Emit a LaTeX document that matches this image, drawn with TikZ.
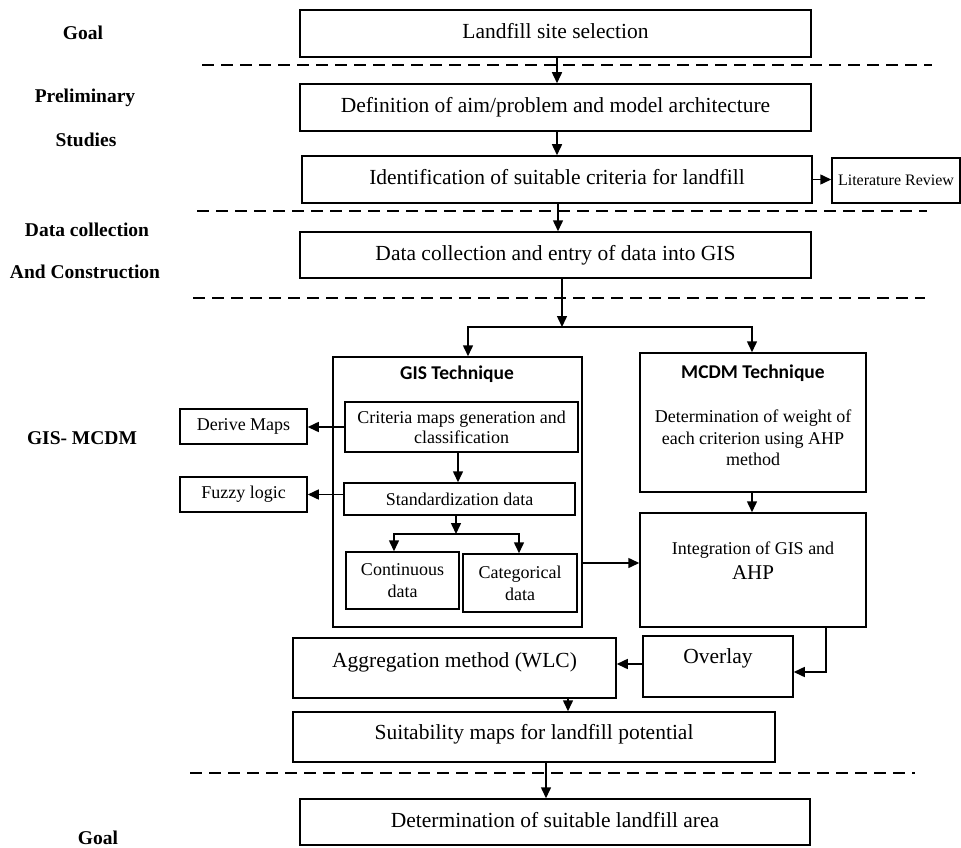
\documentclass[tikz,border=0pt]{standalone}
\usepackage{fontspec}
\setmainfont{Liberation Serif}
\newfontfamily\calib{Carlito}
\usetikzlibrary{arrows.meta}
\begin{document}
\begin{tikzpicture}[x=1pt,y=-1pt,
  bx/.style={draw, line width=1.5pt, inner sep=2pt, align=center},
  big/.style={font=\fontsize{21.5}{25}\selectfont, text height=15pt, text depth=5pt},
  sml/.style={font=\fontsize{18}{21}\selectfont},
  lab/.style={font=\bfseries\fontsize{19.5}{23}\selectfont},
  ttl/.style={font=\calib\bfseries\fontsize{19.5}{23}\selectfont},
  arr/.style={line width=1.5pt, -{Triangle[length=11pt,width=10pt]}},
  ln/.style={line width=1.5pt},
  dline/.style={line width=1.6pt, dash pattern=on 12pt off 7pt}]
\useasboundingbox (0,0) rectangle (961,848);

% left labels
\node[lab] (l1) at (83,33) {Goal};
\node[lab] (l2) at (85,98) {Preliminary};
\node[lab] (l3) at (86,140) {Studies};
\node[lab] (l4) at (87,230) {Data collection};
\node[lab] (l5) at (85,272) {And Construction};
\node[lab] (l6) at (82,438) {GIS- MCDM};
\node[lab] (l7) at (98,838) {Goal};

% dashed separators
\draw[dline] (202,65) -- (932,65);
\draw[dline] (197,211) -- (927,211);
\draw[dline] (193,298) -- (925,298);
\draw[dline] (190,773) -- (915,773);

% main boxes
\node[bx,big,minimum width=511pt,minimum height=47pt] (goal) at (555.5,33.5) {Landfill site selection};
\node[bx,big,minimum width=511pt,minimum height=47pt] (def) at (555.5,107.5) {Definition of aim/problem and model architecture};
\node[bx,big,minimum width=510pt,minimum height=47pt] (ident) at (557,179.5) {Identification of suitable criteria for landfill};
\node[bx,font=\fontsize{16}{19}\selectfont,minimum width=128pt,minimum height=45pt] (lit) at (896,180.5) {Literature Review};
\node[bx,big,minimum width=511pt,minimum height=46pt] (data) at (555.5,255) {Data collection and entry of data into GIS};

% GIS technique block
\node[bx,minimum width=249pt,minimum height=270pt] (gis) at (457.5,492) {};
\node[ttl] (gist) at (457,374) {GIS Technique};
\node[bx,sml,font=\fontsize{18}{20}\selectfont,minimum width=233pt,minimum height=50pt] (crit) at (461.5,427) {Criteria maps generation and\\classification};
\node[bx,sml,minimum width=127pt,minimum height=35pt] (derive) at (243.5,426.5) {Derive Maps};
\node[bx,sml,minimum width=231pt,minimum height=32pt] (std) at (459.5,499) {Standardization data};
\node[bx,sml,minimum width=127pt,minimum height=35pt] (fuzzy) at (243.5,494.5) {Fuzzy logic};
\node[bx,font=\fontsize{18}{22}\selectfont,minimum width=113pt,minimum height=57pt] (cont) at (402.5,580.5) {Continuous\\data};
\node[bx,font=\fontsize{18}{22}\selectfont,minimum width=114pt,minimum height=58pt] (cat) at (520,583) {Categorical\\data};

% MCDM block
\node[bx,minimum width=226pt,minimum height=139pt] (mcdm) at (753,422.5) {};
\node[ttl] (mcdmt) at (753,373) {MCDM Technique};
\node[align=center,font=\fontsize{18}{21.5}\selectfont] (mcdmx) at (753,438) {Determination of weight of\\each criterion using AHP\\method};
\node[bx,minimum width=226pt,minimum height=114pt] (integ) at (753,570) {};
\node[align=center,font=\fontsize{18}{25}\selectfont] (integx) at (753,561) {Integration of GIS and\\{\fontsize{21}{25}\selectfont AHP}};

% lower boxes
\node[bx,big,text depth=17pt,minimum width=323pt,minimum height=60pt] (agg) at (454.5,668) {Aggregation method (WLC)};
\node[bx,big,text depth=22pt,minimum width=150pt,minimum height=61pt] (overlay) at (718,666.5) {Overlay};
\node[bx,big,text depth=11pt,minimum width=482pt,minimum height=50pt] (suit) at (534,737) {Suitability maps for landfill potential};
\node[bx,big,minimum width=510pt,minimum height=46pt] (final) at (555,822) {Determination of suitable landfill area};

% connectors
\draw[arr] ([xshift=1.5pt]goal.south) -- ([xshift=1.5pt]def.north);
\draw[arr] ([xshift=1.5pt]def.south) -- (ident.north);
\draw[arr] (ident.east) -- (ident.east -| lit.west);
\draw[arr] ([xshift=1pt]ident.south) -- ([xshift=2.5pt]data.north);
\coordinate (split) at (562,327);
\draw[arr] ([xshift=6.5pt]data.south) -- (split);
\draw[arr, shorten <=-0.75pt] (split) -| ([xshift=10.5pt]gis.north);
\draw[arr, shorten <=-0.75pt] (split) -| ([xshift=-1pt]mcdm.north);
\draw[arr] (crit.west) -- (crit.west -| derive.east);
\draw[arr] ([xshift=-3.5pt]crit.south) -- ([xshift=-3.5pt]crit.south |- std.north);
\draw[arr] (fuzzy.east -| std.west) -- (fuzzy.east);
\coordinate (split2) at (456,534);
\draw[arr] ([xshift=-3.5pt]std.south) -- (split2);
\draw[arr, shorten <=-0.75pt] (split2) -| ([xshift=-8.5pt]cont.north);
\draw[arr, shorten <=-0.75pt] (split2) -| ([xshift=-1pt]cat.north);
\draw[arr] (gis.east |- 0,563) -- (integ.west |- 0,563);
\draw[arr] ([xshift=-1pt]mcdm.south) -- ([xshift=-1pt]integ.north);
\draw[arr] ([xshift=73pt]integ.south) |- ([yshift=-5.5pt]overlay.east);
\draw[arr] ([yshift=2.5pt]overlay.west) -- ([yshift=2.5pt]overlay.west -| agg.east);
\draw[arr] ([xshift=113.5pt]agg.south) -- ([xshift=113.5pt]agg.south |- suit.north);
\draw[arr] ([xshift=12pt]suit.south) -- ([xshift=12pt]suit.south |- final.north);
\end{tikzpicture}
\end{document}
